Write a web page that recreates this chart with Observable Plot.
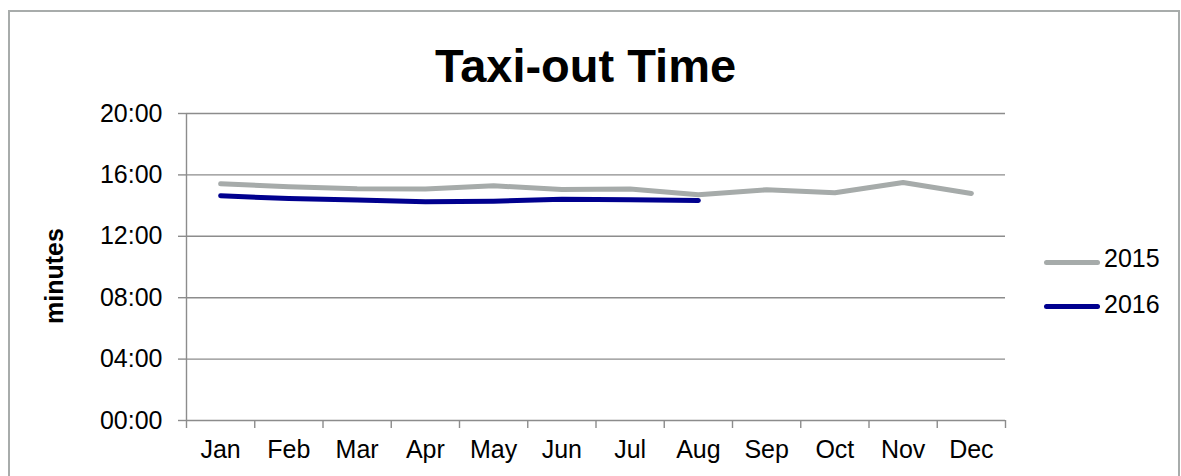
<!DOCTYPE html>
<html>
<head>
<meta charset="utf-8">
<script src="https://cdn.jsdelivr.net/npm/d3@7"></script>
<script src="https://cdn.jsdelivr.net/npm/@observablehq/plot@0.6"></script>
<style>
  html, body { margin: 0; padding: 0; background: #fff; }
  #wrap { position: relative; width: 1181px; height: 476px; overflow: hidden; font-family: "Liberation Sans", Arial, sans-serif; color: #000; }
  #border { position: absolute; left: 8px; top: 10px; width: 1172px; height: 490px; border: 2px solid #a8acab; box-sizing: border-box; }
  #chart { position: absolute; left: 0; top: 0; }
  .title { position: absolute; left: 585.5px; top: 42px; transform: translateX(-50%); font-size: 47px; font-weight: bold; line-height: 47px; white-space: nowrap; }
  .ylabel { position: absolute; left: 54.3px; top: 275.5px; transform: translate(-50%, -50%) rotate(-90deg); font-size: 25px; font-weight: bold; line-height: 25px; white-space: nowrap; }
  .swatch { position: absolute; left: 1044px; width: 56px; height: 5px; border-radius: 3px; }
  .ltext { position: absolute; left: 1104px; font-size: 25px; line-height: 25px; white-space: nowrap; }
</style>
</head>
<body>
<div id="wrap">
  <div id="border"></div>
  <div id="chart"></div>
  <div class="title">Taxi-out Time</div>
  <div class="ylabel">minutes</div>
  <div id="legend"></div>
</div>
<script>
const months = ["Jan","Feb","Mar","Apr","May","Jun","Jul","Aug","Sep","Oct","Nov","Dec"];
const years = ["2015","2016"];
const minutes2015 = [15.42, 15.23, 15.10, 15.08, 15.29, 15.05, 15.08, 14.71, 15.03, 14.84, 15.51, 14.79];
const minutes2016 = [14.64, 14.46, 14.36, 14.25, 14.29, 14.42, 14.38, 14.33];
const yTicks = [0, 4, 8, 12, 16, 20];
const yTickLabels = ["00:00","04:00","08:00","12:00","16:00","20:00"];
const colors = ["#a6abaa", "#00008f"];

const rows = [
  ...minutes2015.map((v, i) => ({month: months[i], idx: i, year: "2015", value: v})),
  ...minutes2016.map((v, i) => ({month: months[i], idx: i, year: "2016", value: v}))
];

const gridColor = "#8c8c8c";

const chart = Plot.plot({
  width: 1181,
  height: 476,
  marginLeft: 186,
  marginRight: 176,
  marginTop: 113,
  marginBottom: 56,
  style: {fontFamily: "'Liberation Sans', Arial, sans-serif", fontSize: "25px", background: "transparent", color: "#000"},
  x: {domain: [0, months.length], axis: null},
  y: {domain: [0, 20], axis: null},
  color: {domain: years, range: colors},
  marks: [
    Plot.ruleY(yTicks, {stroke: gridColor, strokeWidth: 1.4}),
    Plot.ruleX([0], {stroke: gridColor, strokeWidth: 1.4}),
    Plot.axisY({
      ticks: yTicks,
      tickFormat: d => yTickLabels[yTicks.indexOf(d)],
      tickSize: 8, tickPadding: 16,
      stroke: gridColor, strokeWidth: 1.4,
      fill: "#000", fontSize: 25, label: null
    }),
    Plot.axisX({
      ticks: d3.range(months.length + 1),
      tickFormat: () => "",
      tickSize: 8,
      stroke: gridColor, strokeWidth: 1.4, label: null
    }),
    Plot.axisX({
      ticks: months.map((m, i) => i + 0.5),
      tickFormat: d => months[Math.floor(d)],
      tickSize: 0, tickPadding: 20,
      fill: "#000", fontSize: 25, label: null
    }),
    Plot.line(rows, {
      x: d => d.idx + 0.5,
      y: "value",
      z: "year",
      stroke: "year",
      strokeWidth: 5,
      strokeLinecap: "round",
      strokeLinejoin: "round"
    })
  ]
});
document.getElementById("chart").appendChild(chart);

// legend (HTML)
const legend = document.getElementById("legend");
const swatchTops = [259.8, 303.5];
const textTops = [245.8, 291.8];
years.forEach((y, i) => {
  const s = document.createElement("div");
  s.className = "swatch";
  s.style.top = swatchTops[i] + "px";
  s.style.background = colors[i];
  legend.appendChild(s);
  const t = document.createElement("div");
  t.className = "ltext";
  t.style.top = textTops[i] + "px";
  t.textContent = y;
  legend.appendChild(t);
});
</script>
</body>
</html>
